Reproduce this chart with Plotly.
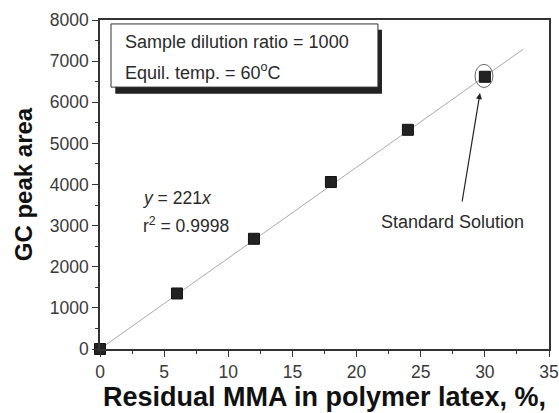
import plotly.graph_objects as go

x_vals = [0, 6, 12, 18, 24, 30]
y_vals = [0, 1350, 2680, 4060, 5330, 6620]
slope = 221
fit_x = [0, 33]
fit_y = [slope * v for v in fit_x]
x_ticks = [0, 5, 10, 15, 20, 25, 30, 35]
y_ticks = [0, 1000, 2000, 3000, 4000, 5000, 6000, 7000, 8000]

FONT = "Liberation Sans, Arial, sans-serif"
AX = "#333333"
TXT = "#2a2a2a"

fig = go.Figure()
fig.add_trace(go.Scatter(x=fit_x, y=fit_y, mode="lines",
                         line=dict(color="#aaaaaa", width=1), showlegend=False))
fig.add_trace(go.Scatter(x=x_vals, y=y_vals, mode="markers",
                         marker=dict(symbol="square", size=11, color="#222222",
                                     line=dict(color="#111111", width=1)),
                         showlegend=False, cliponaxis=False))

# text box with shadow
fig.add_shape(type="rect", xref="paper", yref="paper", x0=0.034, x1=0.628, y0=0.776, y1=0.970,
              fillcolor="#222222", line=dict(width=0), layer="above")
fig.add_shape(type="rect", xref="paper", yref="paper", x0=0.0245, x1=0.619, y0=0.796, y1=0.988,
              fillcolor="white", line=dict(color="#333333", width=1), layer="above")
fig.add_annotation(xref="paper", yref="paper", x=0.052, y=0.933, xanchor="left", yanchor="middle",
                   text="Sample dilution ratio = 1000", showarrow=False,
                   font=dict(size=18, color=TXT, family=FONT))
fig.add_annotation(xref="paper", yref="paper", x=0.052, y=0.842, xanchor="left", yanchor="middle",
                   text="Equil. temp. = 60<sup>o</sup>C", showarrow=False,
                   font=dict(size=18, color=TXT, family=FONT))

# equation
fig.add_annotation(x=3.2, y=3672, xanchor="left", yanchor="middle",
                   text="<i>y</i> = 221<i>x</i>", showarrow=False,
                   font=dict(size=17.5, color=TXT, family=FONT))
fig.add_annotation(x=3.2, y=3015, xanchor="left", yanchor="middle",
                   text="r<sup>2</sup> = 0.9998", showarrow=False,
                   font=dict(size=17.5, color=TXT, family=FONT))

# standard solution
fig.add_shape(type="circle", xref="x", yref="y", x0=29.23, x1=30.63, y0=6360, y1=6920,
              line=dict(color="#666666", width=1))
fig.add_annotation(x=29.62, y=6225, ax=28.21, ay=3550, xref="x", yref="y", axref="x", ayref="y",
                   text="", showarrow=True, arrowhead=2, arrowsize=1, arrowwidth=1.2,
                   arrowcolor="#222222")
fig.add_annotation(x=27.5, y=3088, xanchor="center", yanchor="middle",
                   text="Standard Solution", showarrow=False,
                   font=dict(size=18, color=TXT, family=FONT))

fig.update_xaxes(range=[0, 35], tickvals=x_ticks, ticks="outside", ticklen=6, tickwidth=1.2,
                 tickcolor=AX, showline=True, linecolor=AX, linewidth=1.5, mirror=True,
                 showgrid=False, zeroline=False, automargin=False,
                 minor=dict(ticks="outside", ticklen=3, dtick=2.5, tickcolor=AX, showgrid=False),
                 tickfont=dict(size=17.5, color="#3a3a3a", family=FONT),
                 title=dict(text="<b>Residual MMA in polymer latex, %,</b>", standoff=6,
                            font=dict(size=27, color="#111111", family=FONT)))
fig.update_yaxes(range=[0, 8000], tickvals=y_ticks, ticks="outside", ticklen=6, tickwidth=1.2,
                 tickcolor=AX, showline=True, linecolor=AX, linewidth=1.5, mirror=True,
                 showgrid=False, zeroline=False, automargin=False,
                 minor=dict(ticks="outside", ticklen=3, dtick=500, tickcolor=AX, showgrid=False),
                 tickfont=dict(size=17.5, color="#3a3a3a", family=FONT),
                 title=dict(text="<b>GC peak area</b>", standoff=10,
                            font=dict(size=24, color="#111111", family=FONT)))

fig.update_layout(width=559, height=413, margin=dict(l=100, r=10, t=20, b=64),
                  plot_bgcolor="white", paper_bgcolor="white")
fig.write_html("out.html", config={"displayModeBar": False},
               post_script="document.body.style.margin='0';")
